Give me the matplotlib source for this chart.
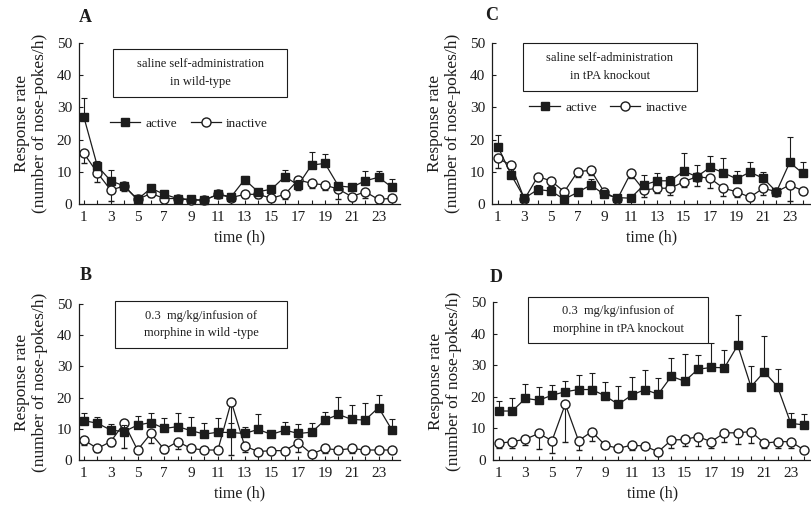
import numpy as np
import matplotlib
matplotlib.use('Agg')
import matplotlib.pyplot as plt
from matplotlib.patches import Rectangle
from matplotlib.lines import Line2D

plt.rcParams['font.family'] = ['Liberation Serif', 'DejaVu Serif']

hours = np.arange(1, 25)

# panel A: saline, wild-type
a_active = [26.9, 11.8, 7.2, 5.6, 1.4, 4.9, 3.0, 1.7, 1.4, 1.2, 3.0, 2.3,
            7.6, 3.8, 4.6, 8.5, 5.9, 12.1, 12.6, 5.6, 5.2, 7.2, 8.3, 5.2]
a_active_err = [6, 1.5, 3.5, 1, 0.5, 1, 0.5, 0.5, 0.5, 0.5, 1, 1,
                1, 1, 1, 2, 1.5, 4, 3, 1, 1, 3, 2, 2.5]
a_inactive = [15.7, 9.7, 4.3, 5.6, 1.4, 3.3, 1.7, 1.7, 1.2, 1.2, 3.0, 2.0,
              3.0, 3.0, 1.8, 3.0, 7.5, 6.4, 5.9, 4.6, 2.3, 3.8, 1.4, 1.8]
a_inactive_err = [3, 3, 3.5, 1.5, 0.5, 1, 0.5, 0.5, 0.5, 0.5, 1, 1,
                  1, 1, 1, 1.5, 3, 1.5, 1.5, 3, 1, 2, 0.5, 1]

# panel C: saline, tPA knockout
c_active = [17.8, 9.0, 1.8, 4.5, 4.0, 1.5, 3.6, 5.9, 3.0, 2.0, 1.8, 5.9,
            7.2, 7.2, 10.2, 8.5, 11.4, 9.7, 7.8, 9.9, 8.0, 3.8, 12.9, 9.5]
c_active_err = [3.5, 2, 0.5, 1.5, 1.5, 0.5, 1.5, 2, 1, 0.5, 1, 3,
                2.5, 1.5, 5.5, 3.5, 3.5, 4.5, 2.5, 3, 2, 0.5, 8, 3.5]
c_inactive = [14.2, 12.0, 1.5, 8.5, 7.2, 3.8, 10.0, 10.5, 3.8, 1.5, 9.5, 4.3,
              4.9, 4.9, 6.9, 8.5, 8.0, 4.9, 3.8, 2.1, 4.9, 3.8, 5.9, 4.1]
c_inactive_err = [3, 2, 0.5, 1.5, 1.5, 1, 1.5, 1.5, 1, 0.5, 1.5, 2,
                  1.5, 2, 1.5, 3, 3, 2.5, 1.5, 0.5, 2, 1, 5, 1]

# panel B: morphine, wild-type
b_active = [12.6, 11.8, 9.6, 9.1, 11.2, 12.0, 10.1, 10.7, 9.4, 8.3, 8.9, 8.8,
            8.5, 9.8, 8.2, 9.6, 8.5, 8.9, 12.8, 14.6, 13.0, 12.8, 16.8, 9.6]
b_active_err = [2.5, 2, 2, 2, 3, 3, 3.5, 4.5, 4.5, 3.5, 4.5, 3,
                2, 5, 0.5, 2.5, 3, 3, 2.5, 5.5, 4.5, 5.5, 4, 3.5]
b_inactive = [6.4, 3.7, 5.9, 11.8, 3.2, 8.5, 3.4, 5.9, 3.7, 3.2, 3.2, 18.7,
              4.5, 2.7, 3.0, 3.0, 5.6, 1.9, 3.7, 3.2, 3.7, 3.2, 3.2, 3.2]
b_inactive_err = [1.5, 1, 1.5, 8, 1, 3, 1, 2.5, 1, 1, 1, 17,
                  2, 1, 1, 1, 3, 0.5, 1.5, 1, 1.5, 1, 1, 1]

# panel D: morphine, tPA knockout
d_active = [15.5, 15.5, 19.5, 18.9, 20.5, 21.6, 22.3, 22.3, 20.3, 17.6, 20.5, 22.3,
            20.8, 26.5, 24.9, 28.7, 29.3, 29.2, 36.3, 23.2, 27.9, 23.2, 11.6, 11.1]
d_active_err = [3.2, 4.2, 4.4, 4.3, 3.2, 3.3, 4.5, 5.3, 4.4, 5.8, 5.8, 6.1,
                5, 5.9, 8.8, 4.5, 7.7, 5.5, 9.7, 6.5, 11.4, 5.7, 3.3, 3.6]
d_inactive = [5.3, 5.8, 6.6, 8.4, 6.1, 17.7, 6.1, 9.0, 4.7, 3.7, 4.7, 4.4,
              2.6, 6.3, 6.5, 7.4, 5.8, 8.6, 8.6, 9.0, 5.3, 5.8, 5.8, 3.2]
d_inactive_err = [1.5, 2, 2, 5, 4, 12, 3, 3, 1, 1, 1.5, 1,
                  1, 2.5, 2, 3, 2, 3, 3.5, 3.5, 1.5, 2, 2, 1]

ink = '#1c1c1c'
W, H = 812, 505
fig = plt.figure(figsize=(W / 100, H / 100), dpi=100)


def px_axes(left, right, top, bottom):
    return fig.add_axes([left / W, 1 - bottom / H, (right - left) / W, (bottom - top) / H])


def panel(ax, act, act_err, inact, inact_err, xlim, box, note, legend_pos=None):
    zeros = np.zeros(24)
    ax.errorbar(hours, inact, yerr=[inact_err, zeros], color=ink, lw=0.9,
                elinewidth=0.8, capsize=2.5, capthick=0.8, marker='o', ms=6.5,
                mfc='white', mec=ink, mew=1.0, zorder=3, clip_on=False)
    ax.errorbar(hours, act, yerr=[zeros, act_err], color=ink, lw=0.9,
                elinewidth=0.8, capsize=2.5, capthick=0.8, marker='s', ms=5.8,
                mfc=ink, mec=ink, zorder=4, clip_on=False)
    ax.set_xlim(*xlim)
    ax.set_ylim(0, 50)
    ax.set_xticks(hours)
    ax.set_xticklabels([str(h) if h % 2 == 1 else '' for h in hours])
    ax.set_yticks(range(0, 51, 10))
    ax.tick_params(direction='in', length=3, width=0.8, colors=ink,
                   labelsize=11, pad=5)
    for s in ('top', 'right'):
        ax.spines[s].set_visible(False)
    for s in ('left', 'bottom'):
        ax.spines[s].set_color(ink)
        ax.spines[s].set_linewidth(0.9)
    ax.set_xlabel('time (h)', fontsize=11.5, color=ink, labelpad=4)
    ax.set_ylabel('Response rate\n(number of nose-pokes/h)', fontsize=12.5,
                  color=ink, labelpad=6, linespacing=1.2)
    x0, x1, y0, y1 = box
    ax.add_patch(Rectangle((x0, y0), x1 - x0, y1 - y0, transform=ax.transAxes,
                           fill=False, ec=ink, lw=0.8, clip_on=False))
    ax.text((x0 + x1) / 2, (y0 + y1) / 2, note, transform=ax.transAxes,
            ha='center', va='center', fontsize=9, color=ink, linespacing=1.6)
    if legend_pos is not None:
        handles = [Line2D([], [], color=ink, lw=0.9, marker='s', ms=5.8, mfc=ink, mec=ink),
                   Line2D([], [], color=ink, lw=0.9, marker='o', ms=6.5, mfc='white', mec=ink)]
        ax.legend(handles, ['active', 'inactive'], loc='center left',
                  bbox_to_anchor=legend_pos, ncol=2, frameon=False, fontsize=9.5,
                  handlelength=2.3, columnspacing=1.0, handletextpad=0.4,
                  labelcolor=ink)


ax_a = px_axes(79, 400, 43, 204)
panel(ax_a, a_active, a_active_err, a_inactive, a_inactive_err, (0.63, 24.6),
      (0.106, 0.648, 0.665, 0.963), 'saline self-administration\nin wild-type',
      legend_pos=(0.06, 0.50))

ax_c = px_axes(492, 812, 43, 204)
panel(ax_c, c_active, c_active_err, c_inactive, c_inactive_err, (0.55, 24.68),
      (0.097, 0.64, 0.70, 1.0), 'saline self-administration\nin tPA knockout',
      legend_pos=(0.08, 0.60))

ax_b = px_axes(79, 400, 304, 460)
panel(ax_b, b_active, b_active_err, b_inactive, b_inactive_err, (0.63, 24.6),
      (0.112, 0.648, 0.718, 1.02), '0.3  mg/kg/infusion of\nmorphine in wild -type')

ax_d = px_axes(493, 812, 302, 460)
panel(ax_d, d_active, d_active_err, d_inactive, d_inactive_err, (0.55, 24.6),
      (0.11, 0.674, 0.74, 1.03), '0.3  mg/kg/infusion of\nmorphine in tPA knockout')

for letter, x, y in [('A', 85, 17), ('C', 492, 15), ('B', 86, 276), ('D', 496, 277)]:
    fig.text(x / W, 1 - y / H, letter, ha='center', va='center', fontsize=13,
             fontweight='bold', color=ink)

fig.savefig('out.png', dpi=100)
